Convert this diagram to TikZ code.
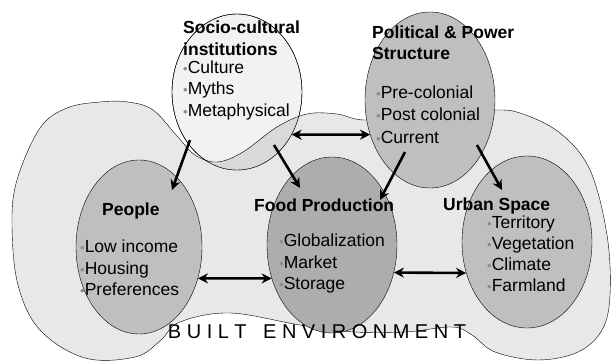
\documentclass[tikz,border=0pt]{standalone}
\usepackage{fontspec}
\setmainfont{Liberation Sans}
\usetikzlibrary{shapes.geometric, arrows.meta, positioning, calc}
\tikzset{
  sphere/.style={ellipse,draw=black,thin,fill=black!25,inner sep=0pt},
  sphere_d/.style={sphere,fill=black!32},
  sphere_l/.style={sphere,fill=black!5},
  heading/.style={anchor=west,inner sep=0pt,align=left,font=\bfseries\fontsize{17.5}{21.5}\selectfont},
  items/.style={anchor=west,inner sep=0pt,align=left,font=\fontsize{17.5}{21.5}\selectfont},
  flow/.style={line width=2.6pt,-{Stealth[length=10pt,width=10pt]}},
  flowx/.style={flow,{Stealth[length=10pt,width=10pt]}-{Stealth[length=10pt,width=10pt]}},
}
\newcommand{\bul}{{\color{black!45}\fontsize{13}{13}\selectfont\textbullet}}
\newcommand{\ls}{\kern5.5pt}
\newcommand{\blobpath}{plot[smooth cycle,tension=.6] coordinates {
	(17,180) (12,225) (18,285) (40,330) (85,358) (135,357) (160,341) (180,322)
	(230,313) (300,325) (355,332) (405,332) (452,327) (472,335) (495,352) (538,360)
	(578,352) (602,330) (610,295) (607,235) (590,170) (560,133) (520,113) (490,110)
	(430,112) (367,120) (337,114) (307,114) (277,127) (243,152) (217,162) (195,155)
	(177,136) (153,110) (128,102) (100,102) (67,108) (40,128)}}

\begin{document}
\begin{tikzpicture}[x=1pt,y=-1pt]
	\useasboundingbox (0,0) rectangle (611,361);
	% built environment
	\draw[thin,fill=black!9] \blobpath;
	\node[sphere_l,minimum width=130pt,minimum height=156pt] (soc) at (237,92) {};
	\begin{scope}
		\clip (237,92) ellipse [x radius=65pt,y radius=78pt];
		\draw[thin,fill=black!15] \blobpath;
	\end{scope}
	\draw[thin] (237,92) ellipse [x radius=65pt,y radius=78pt];
	\node[sphere,minimum width=130pt,minimum height=176pt] (pol) at (430,100) {};
	\node[sphere,minimum width=126pt,minimum height=174pt] (ppl) at (139,247) {};
	\node[sphere_d,minimum width=130pt,minimum height=176pt] (food) at (332,245) {};
	\node[sphere,minimum width=130pt,minimum height=172pt] (urb) at (527,242) {};

	\node[heading] (socT) at (183,38) {Socio-cultural\\institutions};
	\node[items] (socL) at (183,90) {\bul Culture\\\bul Myths\\\bul Metaphysical};
	\node[heading] (polT) at (372,42.5) {Political \& Power\\Structure};
	\node[items,font=\fontsize{17.5}{22.5}\selectfont] (polL) at (376,114.5) {\bul Pre-colonial\\\bul Post colonial\\\bul Current};
	\node[heading] (pplT) at (102,211) {People};
	\node[items] (pplL) at (80,268) {\bul Low income\\\bul Housing\\\bul Preferences};
	\node[heading] (foodT) at (254,205) {Food Production};
	\node[items] (foodL) at (279,263.5) {\bul Globalization\\\bul Market\\\bul Storage};
	\node[heading] (urbT) at (443,206) {Urban Space};
	\node[items,font=\fontsize{17.5}{21}\selectfont] (urbL) at (487,253.5) {\bul Territory\\\bul Vegetation\\\bul Climate\\\bul Farmland};
	\node[font=\fontsize{20}{24}\selectfont,inner sep=0pt] (built) at (317,332)
		{B\ls U\ls I\ls L\ls T\ls\ \ls E\ls N\ls V\ls I\ls R\ls O\ls N\ls M\ls E\ls N\ls T};

	\coordinate (socA) at (190,140);
	\coordinate (socB) at (274,145);
	\coordinate (polA) at (405,152);
	\coordinate (polB) at (477,145);
	\coordinate (pplIn) at (172,190);
	\coordinate (foodIn) at (300,188);
	\coordinate (foodIn2) at (380,200);
	\coordinate (urbIn) at (502,190);
	\draw (socA) edge[flow] (pplIn);
	\draw (socB) edge[flow] (foodIn);
	\draw (polA) edge[flow] (foodIn2);
	\draw (polB) edge[flow] (urbIn);
	\draw (soc.-38) edge[flowx] (pol.210);
	\draw (ppl.-28) edge[flowx] (food.209);
	\draw (food.-24) edge[flowx] (urb.207);
\end{tikzpicture}
\end{document}
